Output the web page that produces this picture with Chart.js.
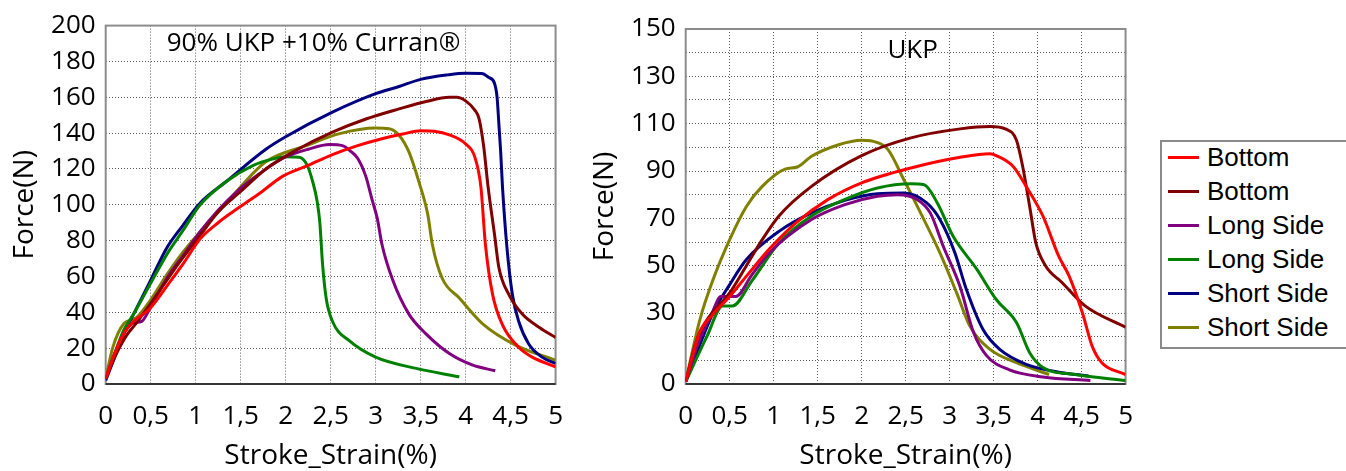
<!DOCTYPE html>
<html><head><meta charset="utf-8">
<script src="https://cdn.jsdelivr.net/npm/chart.js@4"></script>
<style>
html,body{margin:0;padding:0;background:#fff;width:1346px;height:471px;overflow:hidden;}
#c1{position:absolute;left:0;top:0;}
#c2{position:absolute;left:580px;top:0;}
#legend{position:absolute;left:1160px;top:140px;width:200px;height:205px;border:2px solid #8a8a8a;border-right:none;font-family:"Liberation Sans",Arial,sans-serif;font-size:26px;color:#000;box-sizing:content-box;}
#legend .inner{position:relative;top:-2px;}
.item{height:34px;display:flex;align-items:center;white-space:nowrap;}
.swatch{width:31px;height:3px;margin-left:6px;margin-right:8px;}
</style></head><body>
<canvas id="c1" width="580" height="471"></canvas>
<canvas id="c2" width="570" height="471"></canvas>
<div id="legend"><div class="inner"></div></div>
<script>
// ---------- data ----------
const seriesNames  = ['Bottom','Bottom','Long Side','Long Side','Short Side','Short Side'];
const seriesColors = ['#ff0000','#800000','#800080','#008000','#000080','#808000'];

const xTickValues = [0,0.5,1,1.5,2,2.5,3,3.5,4,4.5,5];
const xTickLabels = ['0','0,5','1','1,5','2','2,5','3','3,5','4','4,5','5'];
const leftYTicks  = [0,20,40,60,80,100,120,140,160,180,200];
const rightYTicks = [0,10,20,30,40,50,60,70,80,90,100,110,120,130,140,150];
const rightYLabelled = [0,30,50,70,90,110,130,150];

const leftTitle  = '90% UKP +10% Curran®';
const rightTitle = 'UKP';

// Left panel: 90% UKP + 10% Curran  [strain %, force N]
const leftBottom1 = [[0,3],[0.1,17],[0.2,28],[0.31,35],[0.49,42],[0.7,56],[0.86,67],[1.05,81],[1.25,90],[1.41,96],[1.7,106],[1.97,116],[2.25,122],[2.52,128],[2.8,133],[3.08,137],[3.3,139.5],[3.5,141.3],[3.65,141],[3.82,139],[4.0,134],[4.1,127],[4.17,110],[4.22,78],[4.3,50],[4.41,33],[4.59,20.5],[4.74,15],[5.0,9.6]];
const leftBottom2 = [[0,3],[0.1,15],[0.23,27],[0.34,34],[0.5,45],[0.68,58],[0.85,70],[1.05,83],[1.25,96],[1.49,107],[1.78,120],[2.1,130],[2.52,140.5],[2.9,148],[3.26,153.5],[3.55,157.5],[3.82,160],[3.9,160],[4.0,158],[4.1,153],[4.15,148],[4.2,133],[4.25,110],[4.32,84],[4.37,65],[4.48,50],[4.63,39],[4.82,31.5],[5.0,26]];
const leftLong1   = [[0,3],[0.1,17],[0.2,28],[0.3,34],[0.4,35],[0.5,43],[0.68,59],[0.85,71],[1.05,85],[1.25,97],[1.45,107],[1.7,117],[1.97,126],[2.25,131],[2.49,133.6],[2.63,133],[2.72,130],[2.8,126],[2.89,116],[2.96,103],[3.02,92],[3.07,78],[3.19,58],[3.37,39],[3.56,28],[3.82,17],[4.08,10.5],[4.33,7.4]];
const leftLong2   = [[0,3],[0.1,17],[0.2,30],[0.31,39],[0.53,59],[0.7,74],[0.85,85],[1.05,100],[1.34,113],[1.64,122],[1.85,125.5],[2.0,126.8],[2.15,126.5],[2.24,122],[2.3,113],[2.35,102],[2.38,90],[2.41,67],[2.45,48],[2.52,35],[2.71,24],[3.0,15],[3.45,8.7],[3.93,4]];
const leftShort1  = [[0,2],[0.1,15],[0.2,28],[0.31,39],[0.5,58],[0.68,76],[0.85,88],[1.05,101],[1.34,113],[1.78,131],[2.0,138],[2.52,151.7],[3.0,162],[3.26,166],[3.5,170],[3.8,172.5],[4.0,173.4],[4.18,173.3],[4.26,171],[4.32,168],[4.35,160],[4.37,145],[4.39,129.5],[4.41,110],[4.46,76],[4.52,50],[4.59,35],[4.7,22.5],[4.85,15],[5.0,11.5]];
const leftShort2  = [[0,3],[0.08,20.6],[0.2,33.6],[0.34,37],[0.5,47],[0.68,61],[0.85,73],[1.05,85],[1.25,96],[1.41,105],[1.78,124],[2.23,133],[2.6,139.7],[3.0,142.8],[3.15,142.5],[3.26,138.8],[3.37,129.5],[3.48,113],[3.58,94.5],[3.63,78],[3.74,59],[3.93,48],[4.19,33.6],[4.56,21.6],[5.0,13.3]];

// Right panel: UKP
const rightBottom1 = [[0,1],[0.16,22],[0.3,29],[0.5,37],[0.7,46],[0.95,57],[1.25,68],[1.62,78],[2.0,85],[2.56,91.3],[3.12,95.8],[3.46,97.3],[3.53,96.5],[3.72,92],[3.87,83.5],[4.06,71],[4.24,54],[4.36,45.5],[4.51,30],[4.62,16],[4.73,9],[5.0,4]];
const rightBottom2 = [[0,1],[0.12,18],[0.24,27],[0.5,38.5],[0.69,50],[0.87,61],[1.06,71],[1.43,83.5],[2.0,96.5],[2.56,104],[3.12,107.8],[3.46,108.8],[3.64,107.7],[3.76,103],[3.83,92],[3.91,75],[3.98,59.6],[4.09,50],[4.28,42.8],[4.54,33],[5.0,24]];
const rightLong1   = [[0,1],[0.15,18],[0.3,30],[0.4,37],[0.57,37],[0.75,46],[0.95,55.4],[1.43,69.5],[1.81,75.8],[2.18,79.3],[2.41,80],[2.63,78],[2.78,72.3],[2.93,58],[3.12,41],[3.27,22],[3.42,12],[3.68,6],[4.06,3],[4.6,1.5]];
const rightLong2   = [[0,1],[0.24,20],[0.42,33],[0.53,33],[0.76,44],[1.06,59.6],[1.43,71],[1.81,78],[2.18,82.8],[2.56,84.6],[2.71,84.2],[2.86,76.5],[3.04,62.4],[3.31,48.4],[3.53,35.7],[3.76,26],[3.91,13.2],[4.06,7],[4.43,4],[5.0,1.5]];
const rightShort1  = [[0,1],[0.31,30],[0.5,42],[0.69,52.6],[1.06,64.5],[1.43,72.3],[1.81,77.6],[2.18,80.4],[2.48,80.7],[2.74,76.5],[2.89,69.5],[3.06,55.4],[3.19,40],[3.38,23],[3.57,14.6],[3.87,8.3],[4.24,5],[4.58,3.4]];
const rightShort2  = [[0,1],[0.16,27],[0.31,44],[0.5,61],[0.69,75],[0.87,83.5],[1.13,90.8],[1.27,91.7],[1.43,96.2],[1.73,101],[2.0,103],[2.18,102],[2.3,99],[2.48,86.3],[2.67,72.3],[2.89,55.4],[3.08,38.5],[3.23,24.5],[3.46,14.6],[3.76,9],[4.13,4]];

const leftSeries  = [leftBottom1,leftBottom2,leftLong1,leftLong2,leftShort1,leftShort2];
const rightSeries = [rightBottom1,rightBottom2,rightLong1,rightLong2,rightShort1,rightShort2];

// ---------- rendering ----------
const TICK_FONT = {family:'"Open Sans", sans-serif', size:26};
const AXIS_FONT = {family:'"Open Sans", sans-serif', size:28};

const framePlugin = {
  id:'frame',
  beforeDatasetsDraw(chart){
    const {ctx, chartArea:a} = chart;
    ctx.save();
    ctx.strokeStyle = '#8c8c8c'; ctx.lineWidth = 2;
    ctx.strokeRect(a.left, a.top, a.right-a.left, a.bottom-a.top);
    ctx.strokeStyle = '#1a1a1a'; ctx.lineWidth = 1.5;
    ctx.beginPath(); ctx.moveTo(a.left, a.bottom); ctx.lineTo(a.right, a.bottom); ctx.stroke();
    ctx.restore();
  },
  afterDraw(chart, args, opts){
    const {ctx} = chart;
    ctx.save();
    ctx.fillStyle = '#000';
    ctx.font = opts.font;
    ctx.textAlign = 'center'; ctx.textBaseline = 'middle';
    ctx.fillText(opts.text, chart.scales.x.getPixelForValue(opts.at[0]), chart.scales.y.getPixelForValue(opts.at[1]));
    ctx.restore();
  }
};

function makeChart(id, series, yMax, yTicks, yLabelled, title, pad){
  const datasets = series.map((s,i)=>({
    label: seriesNames[i],
    data: s.map(p=>({x:p[0], y:p[1]})),
    borderColor: seriesColors[i],
    backgroundColor: seriesColors[i],
    borderWidth: 3,
    pointRadius: 0,
    fill: false,
    cubicInterpolationMode: 'monotone'
  }));
  return new Chart(document.getElementById(id), {
    type:'line',
    data:{datasets},
    plugins:[framePlugin],
    options:{
      responsive:false, animation:false, devicePixelRatio:1,
      layout:{padding:{top:pad.top, right:pad.right, left:0, bottom:0}},
      plugins:{legend:{display:false}, tooltip:{enabled:false},
        frame:{text:title.text, at:title.at, font:'26px "Open Sans", sans-serif'}},
      scales:{
        x:{type:'linear', min:0, max:5,
          afterBuildTicks:(s)=>{ s.ticks = xTickValues.map(v=>({value:v})); },
          afterFit:(s)=>{ s.height = 87; },
          ticks:{font:TICK_FONT, color:'#000', padding:17, maxRotation:0, autoSkip:false,
            callback:(v,i)=>xTickLabels[i]},
          grid:{color:'rgba(0,0,0,0.65)', lineWidth:1, drawTicks:false},
          border:{display:false, dash:[1,2]},
          title:{display:true, text:'Stroke_Strain(%)', font:AXIS_FONT, color:'#000', padding:{top:0,bottom:-2}}
        },
        y:{type:'linear', min:0, max:yMax,
          afterBuildTicks:(s)=>{ s.ticks = yTicks.map(v=>({value:v})); },
          afterFit:(s)=>{ s.width = 105.7; },
          ticks:{font:TICK_FONT, color:'#000', padding:10, autoSkip:false,
            callback:(v)=> yLabelled.includes(v) ? String(v) : ''},
          grid:{color:'rgba(0,0,0,0.65)', lineWidth:1, drawTicks:false},
          border:{display:false, dash:[1,2]},
          title:{display:true, text:'Force(N)', font:AXIS_FONT, color:'#000', padding:{top:8,bottom:0}}
        }
      }
    }
  });
}

makeChart('c1', leftSeries, 200, leftYTicks, leftYTicks, {text:leftTitle, at:[2.31,190]}, {top:22.7, right:23.3});
makeChart('c2', rightSeries, 150, rightYTicks, rightYLabelled, {text:rightTitle, at:[2.58,141]}, {top:29, right:19.3});

// legend
const inner = document.querySelector('#legend .inner');
seriesNames.forEach((n,i)=>{
  const d = document.createElement('div'); d.className='item';
  const sw = document.createElement('span'); sw.className='swatch'; sw.style.background = seriesColors[i];
  const t = document.createElement('span'); t.textContent = n;
  d.appendChild(sw); d.appendChild(t); inner.appendChild(d);
});
</script>
</body></html>
